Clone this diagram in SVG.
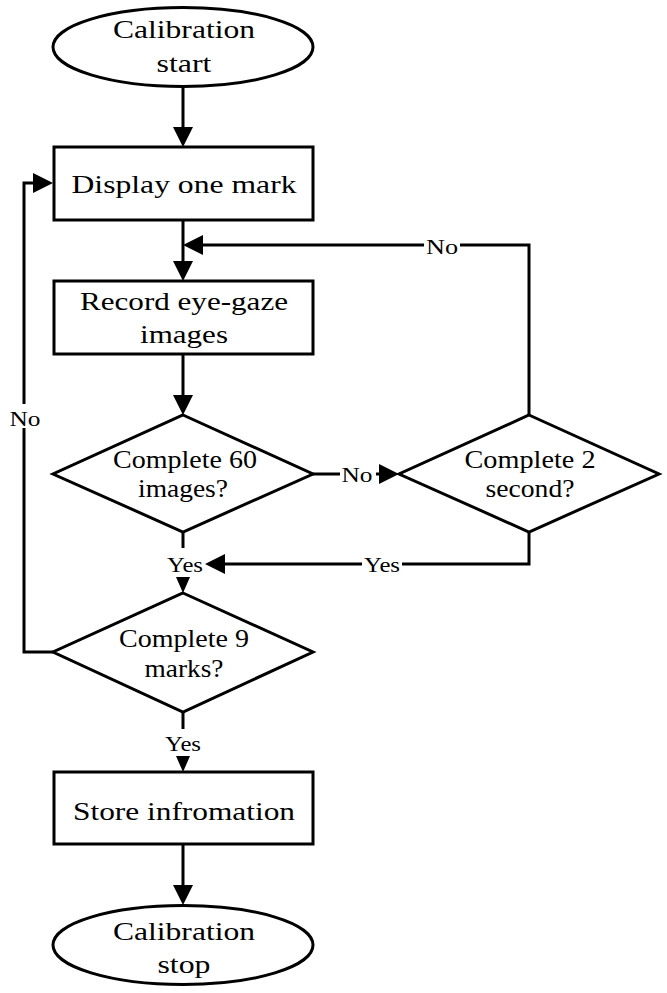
<svg xmlns="http://www.w3.org/2000/svg" width="667" height="993" viewBox="0 0 667 993">
<style>
.shape{fill:#fff;stroke:#000;stroke-width:3}
.t{font-family:"Liberation Serif","Times New Roman",serif;font-size:26px;fill:#000;text-anchor:middle}
.lbl{font-family:"Liberation Serif","Times New Roman",serif;font-size:22px;fill:#000;text-anchor:middle}
.conn{fill:none;stroke:#000;stroke-width:3}
.bg{fill:#fff;stroke:none}
</style>
<defs>
<marker id="big" markerUnits="userSpaceOnUse" viewBox="0 0 20 20" refX="14" refY="10" markerWidth="20" markerHeight="20" orient="auto">
<path d="M0,0 L20,10 L0,20 z" fill="#000"/>
</marker>
<marker id="small" markerUnits="userSpaceOnUse" viewBox="0 0 16 16" refX="11" refY="8" markerWidth="16" markerHeight="16" orient="auto">
<path d="M0,1 L16,8 L0,15 z" fill="#000"/>
</marker>
</defs>
<rect width="667" height="993" fill="#fff"/>
<g id="connectors">
<path class="conn" d="M183,87 V141" marker-end="url(#big)"/>
<path class="conn" d="M183,220 V275" marker-end="url(#big)"/>
<path class="conn" d="M529,415 V245 H189" marker-end="url(#big)"/>
<path class="conn" d="M183,354 V409" marker-end="url(#big)"/>
<path class="conn" d="M313,474 H393" marker-end="url(#big)"/>
<path class="conn" d="M529,532 V564 H211" marker-end="url(#big)"/>
<path class="conn" d="M183,532 V588" marker-end="url(#small)"/>
<path class="conn" d="M53,652 H24 V183 H47" marker-end="url(#big)"/>
<path class="conn" d="M183,712 V767" marker-end="url(#small)"/>
<path class="conn" d="M183,844 V899" marker-end="url(#big)"/>
<rect class="bg" x="424" y="236" width="36" height="20"/>
<text class="lbl" x="442" y="254" textLength="32" lengthAdjust="spacingAndGlyphs">No</text>
<rect class="bg" x="8" y="404" width="34" height="24"/>
<text class="lbl" x="25" y="426" textLength="31" lengthAdjust="spacingAndGlyphs">No</text>
<rect class="bg" x="340" y="465" width="36" height="20"/>
<text class="lbl" x="357" y="482" textLength="31" lengthAdjust="spacingAndGlyphs">No</text>
<rect class="bg" x="362" y="554" width="40" height="20"/>
<text class="lbl" x="382" y="572" textLength="36" lengthAdjust="spacingAndGlyphs">Yes</text>
<rect class="bg" x="164" y="548" width="40" height="29"/>
<text class="lbl" x="185" y="572" textLength="36" lengthAdjust="spacingAndGlyphs">Yes</text>
<rect class="bg" x="163" y="729" width="40" height="27"/>
<text class="lbl" x="183" y="751" textLength="36" lengthAdjust="spacingAndGlyphs">Yes</text>
</g>
<g id="start">
<ellipse class="shape" cx="183" cy="47" rx="130" ry="39.5"/>
<text class="t" x="184" y="38" textLength="142" lengthAdjust="spacingAndGlyphs">Calibration</text>
<text class="t" x="184" y="72" textLength="55" lengthAdjust="spacingAndGlyphs">start</text>
</g>
<g id="display">
<rect class="shape" x="54" y="147" width="259" height="73"/>
<text class="t" x="184" y="193" textLength="225" lengthAdjust="spacingAndGlyphs">Display one mark</text>
</g>
<g id="record">
<rect class="shape" x="54" y="281" width="259" height="73"/>
<text class="t" x="184" y="310" textLength="208" lengthAdjust="spacingAndGlyphs">Record eye-gaze</text>
<text class="t" x="184" y="343" textLength="88" lengthAdjust="spacingAndGlyphs">images</text>
</g>
<g id="check60">
<polygon class="shape" points="183,415 313,474 183,532 53,474"/>
<text class="t" x="185" y="468" textLength="144" lengthAdjust="spacingAndGlyphs">Complete 60</text>
<text class="t" x="183" y="497" textLength="90" lengthAdjust="spacingAndGlyphs">images?</text>
</g>
<g id="check2s">
<polygon class="shape" points="529,415 659,474 529,532 399,474"/>
<text class="t" x="530" y="468" textLength="131" lengthAdjust="spacingAndGlyphs">Complete 2</text>
<text class="t" x="530" y="497" textLength="89" lengthAdjust="spacingAndGlyphs">second?</text>
</g>
<g id="check9">
<polygon class="shape" points="183,593 313,652 183,712 53,652"/>
<text class="t" x="184" y="647" textLength="130" lengthAdjust="spacingAndGlyphs">Complete 9</text>
<text class="t" x="184" y="677" textLength="79" lengthAdjust="spacingAndGlyphs">marks?</text>
</g>
<g id="store">
<rect class="shape" x="54" y="772" width="259" height="72"/>
<text class="t" x="184" y="820" textLength="222" lengthAdjust="spacingAndGlyphs">Store infromation</text>
</g>
<g id="stop">
<ellipse class="shape" cx="183" cy="945" rx="130" ry="39.5"/>
<text class="t" x="184" y="940" textLength="142" lengthAdjust="spacingAndGlyphs">Calibration</text>
<text class="t" x="184" y="973" textLength="53" lengthAdjust="spacingAndGlyphs">stop</text>
</g>
</svg>
